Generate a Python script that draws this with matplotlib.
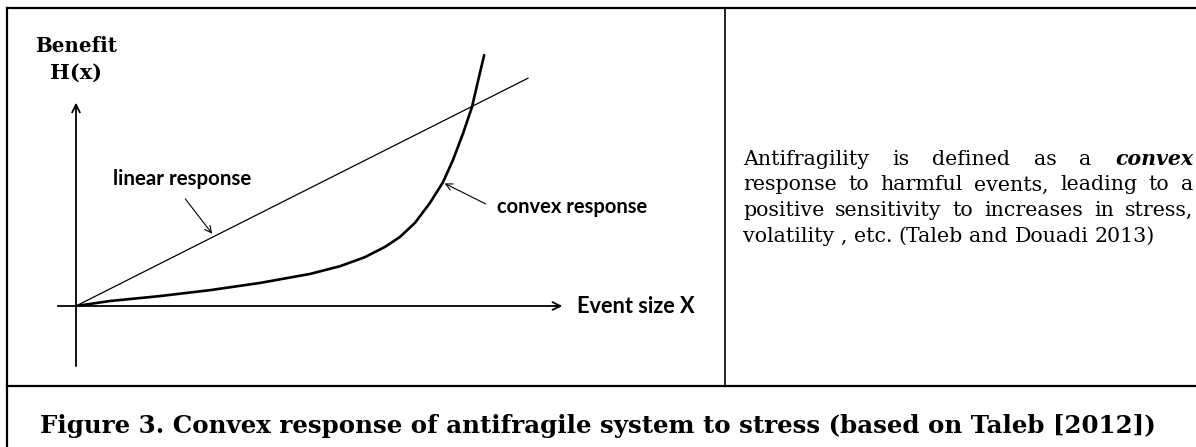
import matplotlib
matplotlib.use("Agg")
import matplotlib.pyplot as plt

# convex response curve (benefit vs event size)
convex_x = [0.0, 0.75, 1.86, 2.96, 4.07, 5.18, 5.84, 6.39, 6.84, 7.17, 7.50, 7.83, 8.12, 8.34, 8.56, 8.76, 8.89, 9.03]
convex_y = [0.0, 0.11, 0.22, 0.35, 0.51, 0.71, 0.88, 1.08, 1.31, 1.53, 1.84, 2.28, 2.74, 3.23, 3.81, 4.40, 4.96, 5.55]
# linear response
linear_x = [0.0, 10.0]
linear_y = [0.0, 5.04]

caption = "Figure 3. Convex response of antifragile system to stress (based on Taleb [2012])"
para_lines = [
    "Antifragility is defined as a *convex",
    "response to harmful events, leading to a",
    "positive sensitivity to increases in stress,",
    "volatility , etc. (Taleb and Douadi 2013)",
]

W, H = 1196, 447
fig = plt.figure(figsize=(W / 100, H / 100), dpi=100)
renderer = fig.canvas.get_renderer()

# background axes in pixel units for the table frame and free text
bg = fig.add_axes([0, 0, 1, 1])
bg.set_xlim(0, W)
bg.set_ylim(H, 0)
bg.axis("off")

frame_kw = dict(color="black", lw=1.6, solid_capstyle="projecting")
bg.plot([7, W + 5], [8, 8], **frame_kw)
bg.plot([7, 7], [8, H + 5], **frame_kw)
bg.plot([7, W + 5], [386, 386], **frame_kw)
bg.plot([725, 725], [8, 386], color="black", lw=1.2)

# chart axes: 1 data unit = 45.2 px, origin at pixel (76, 306)
sc = 45.2
l, r, t, b = 40, 720, 20, 380
ax = fig.add_axes([l / W, 1 - b / H, (r - l) / W, (b - t) / H])
ax.set_xlim((l - 76) / sc, (r - 76) / sc)
ax.set_ylim((306 - b) / sc, (306 - t) / sc)
ax.axis("off")

# axes with arrows
ax.annotate("", xy=(10.82, 0), xytext=(-0.465, 0),
            arrowprops=dict(arrowstyle="->", lw=1.3, color="black", mutation_scale=14))
ax.annotate("", xy=(0, 4.56), xytext=(0, -1.39),
            arrowprops=dict(arrowstyle="->", lw=1.3, color="black", mutation_scale=14))

ax.plot(linear_x, linear_y, color="black", lw=0.9)
ax.plot(convex_x, convex_y, color="black", lw=1.9, solid_capstyle="round", solid_joinstyle="round")

ax.annotate("", xy=(3.05, 1.55), xytext=(2.38, 2.42),
            arrowprops=dict(arrowstyle="->", lw=0.8, color="black", mutation_scale=12))
ax.annotate("", xy=(8.10, 2.74), xytext=(9.12, 2.23),
            arrowprops=dict(arrowstyle="->", lw=0.8, color="black", mutation_scale=12))


def width_of(s, **kw):
    tt = bg.text(0, 0, s, **kw)
    w = tt.get_window_extent(renderer).width
    tt.remove()
    return w


def fit_text(x, y, s, target, **kw):
    size = 10 * target / width_of(s, fontsize=10, **kw)
    return bg.text(x, y, s, fontsize=size, va="baseline", **kw)


sans = dict(family=["Lato", "DejaVu Sans"], weight="bold")
serif_b = dict(family=["DejaVu Serif"], weight="bold")
fit_text(113, 185, "linear response", 139, **sans)
fit_text(497, 213, "convex response", 151, **sans)
fit_text(577, 313, "Event size X", 118, **sans)
fit_text(76, 52, "Benefit", 82, ha="center", **serif_b)
fit_text(76, 79, "H(x)", 52, ha="center", **serif_b)
fit_text(598, 433, caption, 1118, ha="center", **serif_b)

# justified paragraph in the right cell
x0, x1 = 743, 1193
serif = ["DejaVu Serif"]


def word_kw(w):
    if w.startswith("*"):
        return dict(family=serif, style="italic", weight="bold")
    return dict(family=serif)


last = para_lines[-1]
fs = 10 * 412 / width_of(last, fontsize=10, family=serif)
space = width_of("a b", fontsize=fs, family=serif) - width_of("ab", fontsize=fs, family=serif)

y = 165
for i, line in enumerate(para_lines):
    words = line.split(" ")
    widths = [width_of(w.strip("*"), fontsize=fs, **word_kw(w)) for w in words]
    if i < len(para_lines) - 1:
        gap = (x1 - x0 - sum(widths)) / (len(words) - 1)
    else:
        gap = space
    x = x0
    for w, ww in zip(words, widths):
        bg.text(x, y, w.strip("*"), fontsize=fs, va="baseline", **word_kw(w))
        x += ww + gap
    y += 25.5

fig.savefig("out.png", dpi=100)
